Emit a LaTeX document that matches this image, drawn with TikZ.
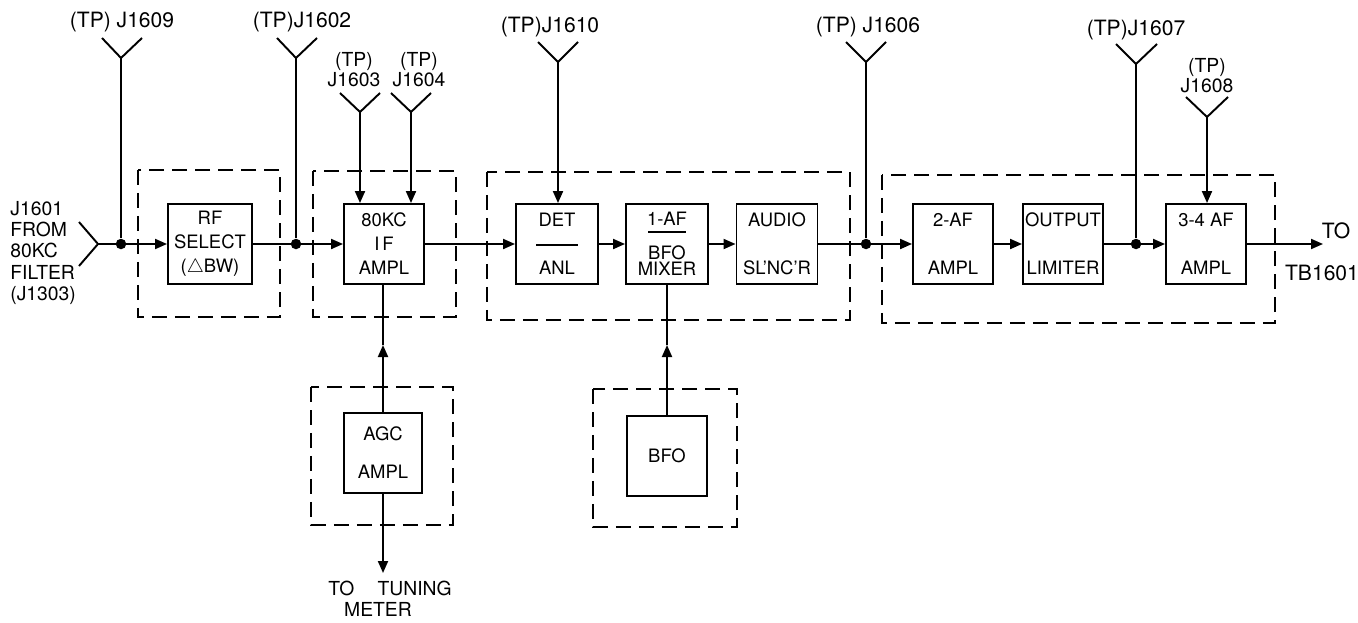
\documentclass[tikz,border=0pt]{standalone}
\usepackage{fontspec}
\setmainfont{TeX Gyre Heros}
\usepackage{tikz}
\usetikzlibrary{
    arrows.meta,
    positioning
}
\tikzset{
  blk/.style   = {draw, line width=1.1pt, minimum width=1.6cm,
                  minimum height=1.6cm, align=center, inner sep=0pt,
                  font=\fontsize{10.5}{13.6}\selectfont},
  grp/.style   = {draw, line width=0.8pt, dash pattern=on 3mm off 1.6mm},
  wire/.style  = {line width=1.1pt},
  arr/.style   = {-{Triangle[length=2.4mm, width=2mm]}, line width=1.1pt},
  dot/.style   = {circle, fill, inner sep=0pt, minimum size=0.21cm},
  lbl/.style   = {align=center, inner sep=0pt, font=\fontsize{12}{11.5}\selectfont},
  tlbl/.style  = {align=center, inner sep=0pt, font=\fontsize{11}{11.3}\selectfont},
  slbl/.style  = {align=left, inner sep=0pt, font=\fontsize{11}{12.2}\selectfont}
}

\begin{document}
\begin{tikzpicture}[x=0.02cm, y=-0.02cm]
\useasboundingbox (0,0) rectangle (1358,622);
% dashed unit outlines
\draw[grp] (138,170) rectangle (280,317);
\draw[grp] (313,171) rectangle (456,317);
\draw[grp] (487,172) rectangle (850,320);
\draw[grp] (882,175) rectangle (1275,323);
\draw[grp] (311,387) rectangle (453,525);
\draw[grp] (593,389) rectangle (737,527);
% blocks
\node[blk, minimum width=1.68cm] (rf) at (210,244) {RF\\SELECT\\($\triangle$BW)};
\node[blk] (if) at (384,244) {80KC\\I\,F\\AMPL};
\node[blk, minimum width=1.64cm] (det) at (557,244) {DET\\[13.6pt]ANL};
\node[blk, minimum width=1.64cm] (mix) at (667,244) {1-AF\\[5.7pt]BFO\\[-4.6pt]MIXER};
\node[blk, minimum width=1.62cm] (aud) at (777,244) {AUDIO\\[13.6pt]SL'NC'R};
\node[blk] (af2) at (953,244) {2-AF\\[13.6pt]AMPL};
\node[blk] (lim) at (1063,244) {OUTPUT\\[13.6pt]LIMITER};
\node[blk] (af34) at (1206,244) {3-4 AF\\[13.6pt]AMPL};
\node[blk, minimum width=1.56cm] (agc) at (383,453) {AGC\\[8pt]AMPL};
\node[blk] (bfo) at (667,456) {BFO};
\draw[wire] (det.center) ++(-21,1) -- ++(42,0);
\draw[wire] (mix.center) ++(-19,-12) -- ++(38,0);
% input
\node[slbl, anchor=west] (src) at (10,253) {J1601\\FROM\\80KC\\FILTER\\(J1303)};
\coordinate (in) at (98,244);
\draw[wire] (in) ++(-19,-22) -- (in) -- ++(-19,22);
% junctions
\node[dot] (d09) at (121,244) {};
\node[dot] (d02) at (296,244) {};
\node[dot] (d06) at (866,244) {};
\node[dot] (d07) at (1136,244) {};
% signal path
\draw[arr] (in) -- (rf);
\draw[arr] (rf) -- (if);
\draw[arr] (if) -- (det);
\draw[arr] (det) -- (mix);
\draw[arr] (mix) -- (aud);
\draw[arr] (aud) -- (af2);
\draw[arr] (af2) -- (lim);
\draw[arr] (lim) -- (af34);
\coordinate (out) at (1323,244);
\draw[arr] (af34) -- (out);
\node[lbl] (to) at (1336,231) {TO};
\node[lbl] (tb) at (1322,273) {TB1601};
% test points
\node[lbl] (t09) at (122,22) {(TP) J1609};
\coordinate (y09) at (121,58);
\draw[wire] (y09) ++(-19,-20) -- (y09) -- ++(21,-20);
\draw[wire] (y09) -- (d09);
\node[lbl] (t02) at (302,22) {(TP)J1602};
\coordinate (y02) at (296,58);
\draw[wire] (y02) ++(-19,-20) -- (y02) -- ++(21,-20);
\draw[wire] (y02) -- (d02);
\node[tlbl] (t03) at (354,70) {(TP)\\J1603};
\coordinate (y03) at (360,112);
\draw[wire] (y03) ++(-20,-19) -- (y03) -- ++(20,-19);
\draw[arr] (y03) -- (y03 |- if.north);
\node[tlbl] (t04) at (419,70) {(TP)\\J1604};
\coordinate (y04) at (411,112);
\draw[wire] (y04) ++(-20,-19) -- (y04) -- ++(20,-19);
\draw[arr] (y04) -- (y04 |- if.north);
\node[lbl] (t10) at (550,27) {(TP)J1610};
\coordinate (y10) at (558,62);
\draw[wire] (y10) ++(-20,-20) -- (y10) -- ++(20,-20);
\draw[arr] (y10) -- (y10 |- det.north);
\node[lbl] (t06) at (868,27) {(TP) J1606};
\coordinate (y06) at (866,62);
\draw[wire] (y06) ++(-20,-20) -- (y06) -- ++(20,-20);
\draw[wire] (y06) -- (d06);
\node[lbl] (t07) at (1136,30) {(TP)J1607};
\coordinate (y07) at (1136,64);
\draw[wire] (y07) ++(-20,-20) -- (y07) -- ++(21,-20);
\draw[wire] (y07) -- (d07);
\node[tlbl] (t08) at (1207,76) {(TP)\\J1608};
\coordinate (y08) at (1207,117);
\draw[wire] (y08) ++(-21,-20) -- (y08) -- ++(21,-20);
\draw[arr] (y08) -- (y08 |- af34.north);
% agc and bfo feeds
\coordinate (m1) at (383,345);
\draw[arr] (agc) -- (m1);
\draw[wire] (m1) -- (m1 |- if.south);
\coordinate (tm) at (383,573);
\draw[arr] (agc) -- (tm);
\node[lbl, font=\fontsize{11}{12}\selectfont] (tun) at (390,588) {TO\hspace{1.2em}TUNING};
\node[lbl, font=\fontsize{11}{12}\selectfont] (met) at (378,609) {METER};
\coordinate (m2) at (667,345);
\draw[arr] (bfo) -- (m2);
\draw[wire] (m2) -- (mix);
\end{tikzpicture}
\end{document}
